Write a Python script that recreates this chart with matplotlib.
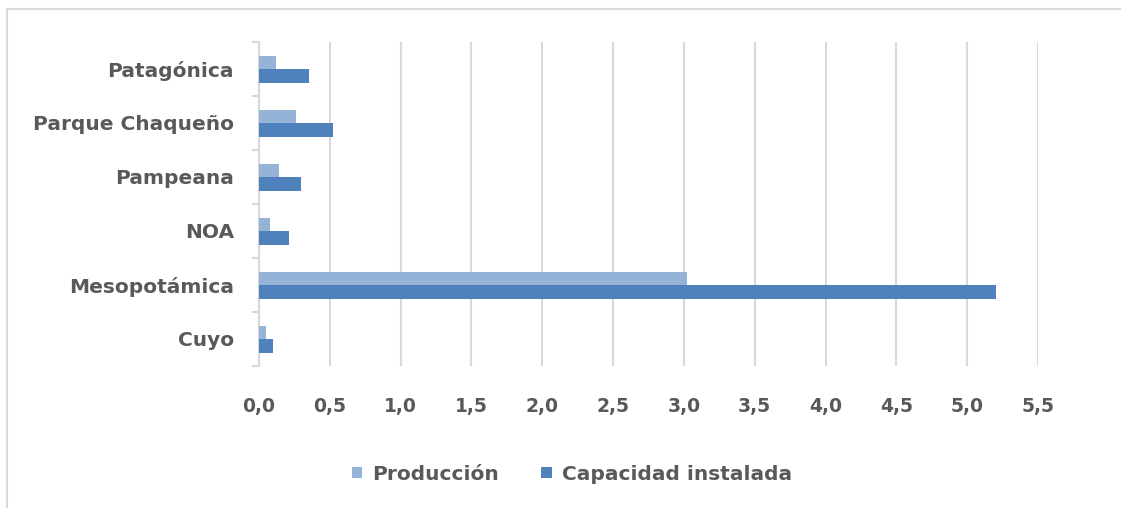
import numpy as np
import matplotlib
matplotlib.use('Agg')
import matplotlib.pyplot as plt
from matplotlib.patches import Rectangle
from matplotlib.ticker import FuncFormatter

# Datos por región (de abajo hacia arriba)
regiones = ['Cuyo', 'Mesopotámica', 'NOA', 'Pampeana', 'Parque Chaqueño', 'Patagónica']
produccion = [0.05, 3.02, 0.08, 0.14, 0.26, 0.12]
capacidad = [0.10, 5.20, 0.21, 0.30, 0.52, 0.35]

ticks_x = np.arange(0, 5.51, 0.5)

plt.rcParams['font.family'] = ['DejaVu Sans']
gris_texto = '#595959'
gris_linea = '#D9D9D9'
tam = 14.5

fig = plt.figure(figsize=(11.21, 5.08), dpi=100)
fig.patches.append(Rectangle((7 / 1121, -0.1), 1.2, 1.1 - 9 / 508,
                             transform=fig.transFigure, fill=False,
                             edgecolor=gris_linea, linewidth=1.5))
ax = fig.add_axes([259 / 1121, 1 - 366 / 508, (1038 - 259) / 1121, (366 - 42) / 508])

y = np.arange(len(regiones))
h = 0.25
ax.barh(y + h / 2, produccion, height=h, color='#95B3D7', label='Producción', zorder=3)
ax.barh(y - h / 2, capacidad, height=h, color='#4F81BD', label='Capacidad instalada', zorder=3)

ax.set_xlim(0, 5.5)
ax.set_ylim(-0.5, len(regiones) - 0.5)
ax.set_xticks(ticks_x)
ax.xaxis.set_major_formatter(FuncFormatter(lambda v, p: f'{v:.1f}'.replace('.', ',')))
ax.set_yticks(y)
ax.set_yticklabels(regiones)
ax.set_yticks(np.arange(-0.5, len(regiones), 1), minor=True)

ax.grid(axis='x', color=gris_linea, linewidth=1.5, zorder=0)
for s in ['top', 'right', 'bottom']:
    ax.spines[s].set_visible(False)
ax.spines['left'].set_color(gris_linea)
ax.spines['left'].set_linewidth(1.5)

ax.tick_params(axis='x', length=0, pad=22, labelsize=13.5, labelcolor=gris_texto)
ax.tick_params(axis='y', which='major', length=0, pad=18, labelsize=tam, labelcolor=gris_texto)
ax.tick_params(axis='y', which='minor', length=5, width=1.5, color=gris_linea)
for lab in ax.get_xticklabels() + ax.get_yticklabels():
    lab.set_fontweight('bold')

leg = fig.legend(loc='center', bbox_to_anchor=(572 / 1121, 1 - 474 / 508), ncol=2,
                 frameon=False, handlelength=0.5, handleheight=0.5, handletextpad=0.5,
                 columnspacing=2.1, prop={'size': tam, 'weight': 'bold'})
for t in leg.get_texts():
    t.set_color(gris_texto)

fig.savefig('out.png', dpi=100)
